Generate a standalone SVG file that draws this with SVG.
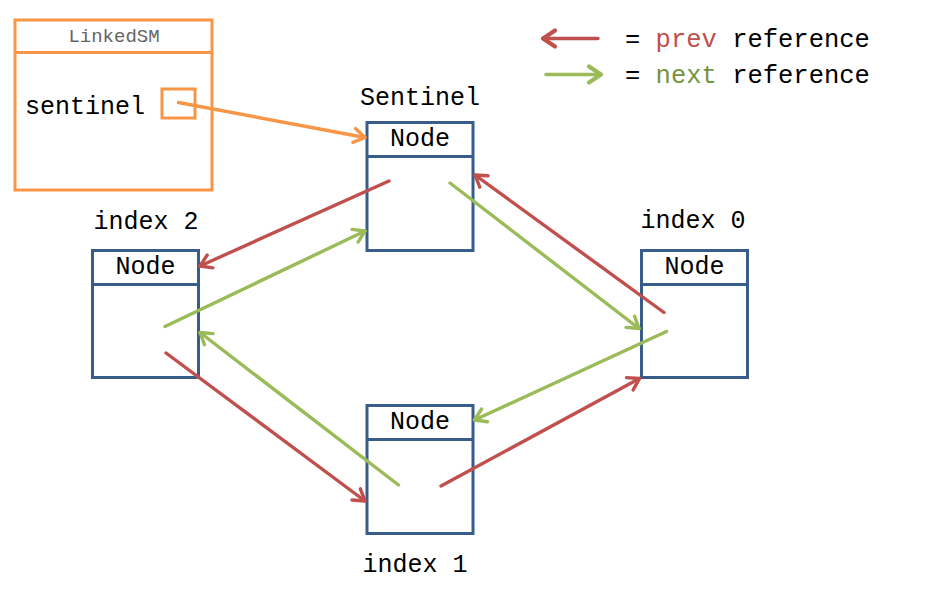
<svg xmlns="http://www.w3.org/2000/svg" width="930" height="600" viewBox="0 0 930 600">
<style>
  .node rect, .node line { fill: none; stroke: #385D8A; stroke-width: 3; }
  text { font-family: "Liberation Mono", "Courier New", monospace; font-size: 25px; fill: #000000; }
  .lbl { text-anchor: middle; }
  .title { font-size: 19px; fill: #666666; text-anchor: middle; }
  .legend-text { font-size: 25.5px; }
  .prev { fill: none; stroke: #C0504D; stroke-width: 3.4; stroke-linecap: round; }
  .next { fill: none; stroke: #9BBB59; stroke-width: 3.4; stroke-linecap: round; }
  .ref { fill: none; stroke: #F79646; stroke-width: 3.4; stroke-linecap: round; }
</style>
<defs>
  <marker id="ah-prev" markerUnits="userSpaceOnUse" viewBox="-16 -10 20 20" refX="0" refY="0" markerWidth="20" markerHeight="20" orient="auto" overflow="visible">
    <path d="M-11,-7 L0,0 L-11,7" fill="none" stroke="#C0504D" stroke-width="3.4" stroke-linecap="round" stroke-linejoin="round"/>
  </marker>
  <marker id="ah-next" markerUnits="userSpaceOnUse" viewBox="-16 -10 20 20" refX="0" refY="0" markerWidth="20" markerHeight="20" orient="auto" overflow="visible">
    <path d="M-11,-7 L0,0 L-11,7" fill="none" stroke="#9BBB59" stroke-width="3.4" stroke-linecap="round" stroke-linejoin="round"/>
  </marker>
  <marker id="ah-ref" markerUnits="userSpaceOnUse" viewBox="-16 -10 20 20" refX="0" refY="0" markerWidth="20" markerHeight="20" orient="auto" overflow="visible">
    <path d="M-11,-7 L0,0 L-11,7" fill="none" stroke="#F79646" stroke-width="3.4" stroke-linecap="round" stroke-linejoin="round"/>
  </marker>
  <marker id="ah-prev-big" markerUnits="userSpaceOnUse" viewBox="-16 -10 20 20" refX="0" refY="0" markerWidth="20" markerHeight="20" orient="auto" overflow="visible">
    <path d="M-12,-8 L0,0 L-12,8" fill="none" stroke="#C0504D" stroke-width="4.2" stroke-linecap="round" stroke-linejoin="round"/>
  </marker>
  <marker id="ah-next-big" markerUnits="userSpaceOnUse" viewBox="-16 -10 20 20" refX="0" refY="0" markerWidth="20" markerHeight="20" orient="auto" overflow="visible">
    <path d="M-12,-8 L0,0 L-12,8" fill="none" stroke="#9BBB59" stroke-width="4.2" stroke-linecap="round" stroke-linejoin="round"/>
  </marker>
</defs>
<rect x="0" y="0" width="930" height="600" fill="#FFFFFF"/>

<g id="linkedsm">
  <rect x="15" y="20" width="197" height="170" fill="none" stroke="#F79646" stroke-width="3"/>
  <line x1="15" y1="52.5" x2="212" y2="52.5" stroke="#F79646" stroke-width="3"/>
  <text class="title" x="114" y="42">LinkedSM</text>
  <text x="25" y="114">sentinel</text>
  <rect x="162" y="89" width="33" height="29" fill="none" stroke="#F79646" stroke-width="3"/>
</g>

<g id="legend">
  <line class="prev" x1="598" y1="38.5" x2="543" y2="38.5" stroke-width="4.2" marker-end="url(#ah-prev-big)"/>
  <line class="next" x1="546" y1="74.5" x2="601" y2="74.5" stroke-width="4.2" marker-end="url(#ah-next-big)"/>
  <text class="legend-text" x="625" y="47">= <tspan fill="#C0504D">prev</tspan> reference</text>
  <text class="legend-text" x="625" y="83">= <tspan fill="#77933C">next</tspan> reference</text>
</g>

<g id="node-sentinel" class="node">
  <text class="lbl" x="420" y="105">Sentinel</text>
  <rect x="367" y="122.5" width="106" height="128"/>
  <line x1="367" y1="156.5" x2="473" y2="156.5"/>
  <text class="lbl" x="420" y="146">Node</text>
</g>

<g id="node-index2" class="node">
  <text class="lbl" x="146" y="229">index 2</text>
  <rect x="92.5" y="250.5" width="106" height="127"/>
  <line x1="92.5" y1="284.5" x2="198.5" y2="284.5"/>
  <text class="lbl" x="145.5" y="274">Node</text>
</g>

<g id="node-index0" class="node">
  <text class="lbl" x="693" y="228">index 0</text>
  <rect x="641.5" y="250.5" width="106" height="127"/>
  <line x1="641.5" y1="284.5" x2="747.5" y2="284.5"/>
  <text class="lbl" x="694.5" y="274">Node</text>
</g>

<g id="node-index1" class="node">
  <text class="lbl" x="415" y="572">index 1</text>
  <rect x="367" y="405.5" width="106" height="128"/>
  <line x1="367" y1="439.5" x2="473" y2="439.5"/>
  <text class="lbl" x="420" y="429">Node</text>
</g>

<g id="connectors">
  <line class="ref" x1="178.5" y1="102.5" x2="365" y2="137.5" marker-end="url(#ah-ref)"/>

  <line class="prev" x1="389" y1="181" x2="200" y2="266" marker-end="url(#ah-prev)"/>
  <line class="prev" x1="166" y1="353" x2="365" y2="501" marker-end="url(#ah-prev)"/>
  <line class="prev" x1="441" y1="486" x2="639.5" y2="378.5" marker-end="url(#ah-prev)"/>
  <line class="prev" x1="664" y1="312.5" x2="475" y2="175" marker-end="url(#ah-prev)"/>

  <line class="next" x1="165" y1="326.5" x2="365" y2="231" marker-end="url(#ah-next)"/>
  <line class="next" x1="450" y1="183" x2="639" y2="328.5" marker-end="url(#ah-next)"/>
  <line class="next" x1="666.5" y1="331.5" x2="474.5" y2="420" marker-end="url(#ah-next)"/>
  <line class="next" x1="398.5" y1="485" x2="200" y2="332.5" marker-end="url(#ah-next)"/>
</g>
</svg>
